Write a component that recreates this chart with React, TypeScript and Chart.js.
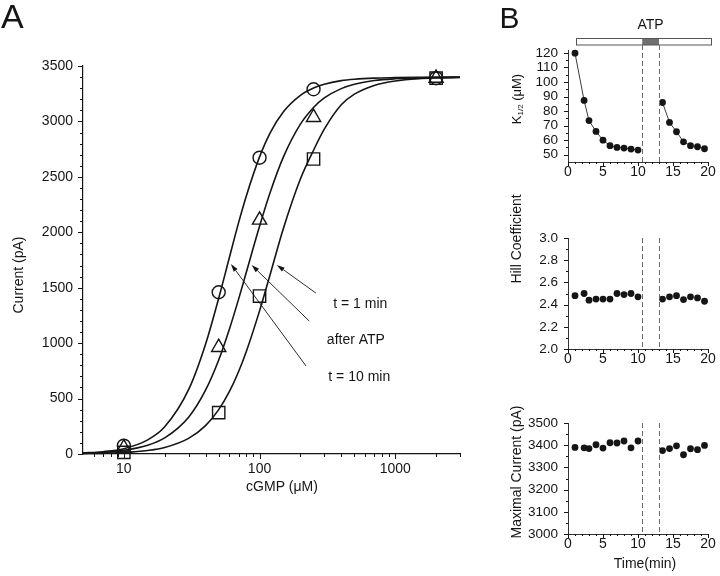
import React, { useEffect, useRef } from 'react';
import { Chart, registerables } from 'chart.js';

Chart.register(...registerables);

const FONT = '"Liberation Sans", Arial, Helvetica, sans-serif';
const INK = '#151515';

// ---------------- Panel A data ----------------
const cgmpConc = [10, 50, 100, 250, 2000];
const current10min = [75, 1459, 2673, 3290, 3390]; // circles
const currentAfterATP = [55, 962, 2111, 3037, 3390]; // triangles
const current1min = [15, 373, 1425, 2661, 3390]; // squares

const fitConc = [5, 7, 10, 15, 20, 30, 40, 50, 60, 70, 80, 100, 120, 150, 200, 250, 300, 400, 500, 700, 1000, 1500, 2000, 3000];
const fit10min = [10, 21, 48, 127, 245, 580, 990, 1405, 1775, 2085, 2330, 2680, 2900, 3088, 3236, 3302, 3336, 3368, 3381, 3391, 3395, 3398, 3399, 3400];
const fitAfterATP = [7, 15, 33, 79, 145, 332, 576, 848, 1128, 1395, 1642, 2054, 2363, 2680, 2975, 3126, 3212, 3296, 3335, 3369, 3385, 3393, 3397, 3398];
const fit1min = [3, 6, 13, 32, 59, 141, 256, 400, 564, 742, 927, 1291, 1624, 2036, 2480, 2740, 2930, 3150, 3246, 3325, 3365, 3386, 3392, 3396];

const xTicksA = [10, 100, 1000];
const xMinorA = [6, 7, 8, 9, 20, 30, 40, 50, 60, 70, 80, 90, 200, 300, 400, 500, 600, 700, 800, 900, 2000, 3000];
const yTicksA = [0, 500, 1000, 1500, 2000, 2500, 3000, 3500];
const yMinorA = Array.from({ length: 36 }, (_, i) => i * 100).filter((v) => v % 500 !== 0);

const arrowLabels = ['t = 1 min', 'after ATP', 't = 10 min'];
const arrowTips = [[134, 1705], [87.4, 1705], [61.5, 1714]];
const arrowTails = [[260, 1452], [232, 1200], [220, 794]];
const arrowLabelAt = [[552, 1350], [513, 1028], [543, 697]];

// ---------------- Panel B data ----------------
const timeSeg1 = [1, 2.3, 3, 4, 5, 6, 7, 8, 9, 10];
const timeSeg2 = [13.5, 14.5, 15.5, 16.5, 17.5, 18.5, 19.5];
const kHalfSeg1 = [119.8, 87.3, 73.5, 66, 60, 56.2, 55, 54.6, 53.9, 53.2];
const kHalfSeg2 = [85.9, 72.2, 65.8, 58.9, 56.2, 55.5, 54.1];
const hillSeg1 = [2.48, 2.5, 2.44, 2.45, 2.45, 2.45, 2.5, 2.49, 2.5, 2.47];
const hillSeg2 = [2.45, 2.47, 2.48, 2.445, 2.47, 2.46, 2.43];
const imaxSeg1 = [3390, 3388, 3385, 3402, 3387, 3411, 3410, 3419, 3388, 3419];
const imaxSeg2 = [3376, 3385, 3397, 3357, 3384, 3380, 3399];

const atpOn = [10.6, 13.0];
const atpBar = [1.1, 20.4];

const xTicksB = [0, 5, 10, 15, 20];
const xMinorB = Array.from({ length: 21 }, (_, i) => i).filter((v) => v % 5 !== 0);
const yTicksK = [50, 60, 70, 80, 90, 100, 110, 120];
const yMinorK = [55, 65, 75, 85, 95, 105, 115];
const yTicksHill = [2.0, 2.2, 2.4, 2.6, 2.8, 3.0];
const yMinorHill = [2.1, 2.3, 2.5, 2.7, 2.9];
const yTicksMax = [3000, 3100, 3200, 3300, 3400, 3500];
const yMinorMax = [3050, 3150, 3250, 3350, 3450];

// ---------------- layout (pixels) ----------------
const W = 720;
const H = 576;
const A_BOX = { left: 83, top: 66, right: 460, bottom: 454 };
const B_LEFT = 568;
const B_RIGHT = 708;
const K_BOX = { top: 50, bottom: 162 };
const HILL_BOX = { top: 238, bottom: 349 };
const MAX_BOX = { top: 423, bottom: 534 };

const pts = (xs: number[], ys: number[]) => xs.map((x, i) => ({ x, y: ys[i] }));

function tickPlugin(id: string, xMaj: number[], xMin: number[], yMaj: number[], yMin: number[], majLen: number, minLen: number) {
  return {
    id,
    afterDraw(chart: any) {
      const { ctx, chartArea: ca, scales } = chart;
      const xs = scales.x;
      const ys = scales.y;
      ctx.save();
      ctx.strokeStyle = INK;
      ctx.lineWidth = 1;
      ctx.beginPath();
      const xt = (v: number, len: number) => {
        const p = Math.round(xs.getPixelForValue(v)) + 0.5;
        ctx.moveTo(p, ca.bottom);
        ctx.lineTo(p, ca.bottom + len);
      };
      const yt = (v: number, len: number) => {
        const p = Math.round(ys.getPixelForValue(v)) + 0.5;
        ctx.moveTo(ca.left, p);
        ctx.lineTo(ca.left - len, p);
      };
      xMaj.forEach((v) => xt(v, majLen));
      xMin.forEach((v) => xt(v, minLen));
      yMaj.forEach((v) => yt(v, majLen));
      yMin.forEach((v) => yt(v, minLen));
      ctx.stroke();
      ctx.restore();
    },
  };
}

function baseOptions(padding: any) {
  return {
    responsive: false,
    animation: false,
    events: [],
    layout: { padding, autoPadding: false },
    plugins: { legend: { display: false }, tooltip: { enabled: false } },
  };
}

function rotatedText(ctx: any, text: string, x: number, y: number, size: number) {
  ctx.save();
  ctx.translate(x, y);
  ctx.rotate(-Math.PI / 2);
  ctx.font = `${size}px ${FONT}`;
  ctx.fillStyle = INK;
  ctx.textAlign = 'center';
  ctx.textBaseline = 'middle';
  ctx.fillText(text, 0, 0);
  ctx.restore();
}

function dashedV(ctx: any, x: number, y1: number, y2: number) {
  ctx.save();
  ctx.strokeStyle = '#6a6a6a';
  ctx.lineWidth = 1;
  ctx.setLineDash([5, 3]);
  ctx.beginPath();
  const px = Math.round(x) + 0.5;
  ctx.moveTo(px, y1);
  ctx.lineTo(px, y2);
  ctx.stroke();
  ctx.restore();
}

function makePanelA(canvas: HTMLCanvasElement) {
  const annot = {
    id: 'annotA',
    afterDraw(chart: any) {
      const { ctx, scales } = chart;
      const xs = scales.x;
      const ys = scales.y;
      ctx.save();
      // panel letter
      ctx.fillStyle = INK;
      ctx.font = `34px ${FONT}`;
      ctx.textAlign = 'left';
      ctx.textBaseline = 'alphabetic';
      ctx.fillText('A', 1, 28);
      // axis titles
      ctx.font = `14px ${FONT}`;
      ctx.textAlign = 'center';
      ctx.textBaseline = 'middle';
      ctx.fillText('cGMP (\u03bcM)', 282, 487);
      rotatedText(ctx, 'Current (pA)', 19.5, 275, 14);
      // arrows
      ctx.strokeStyle = INK;
      ctx.fillStyle = INK;
      ctx.lineWidth = 0.9;
      arrowTips.forEach((tip, i) => {
        const x2 = xs.getPixelForValue(tip[0]);
        const y2 = ys.getPixelForValue(tip[1]);
        const x1 = xs.getPixelForValue(arrowTails[i][0]);
        const y1 = ys.getPixelForValue(arrowTails[i][1]);
        const ang = Math.atan2(y2 - y1, x2 - x1);
        const L = 8;
        const Wd = 2.4;
        const bx = x2 - L * Math.cos(ang);
        const by = y2 - L * Math.sin(ang);
        ctx.beginPath();
        ctx.moveTo(x1, y1);
        ctx.lineTo(bx, by);
        ctx.stroke();
        ctx.beginPath();
        ctx.moveTo(x2, y2);
        ctx.lineTo(bx + Wd * Math.sin(ang), by - Wd * Math.cos(ang));
        ctx.lineTo(bx - Wd * Math.sin(ang), by + Wd * Math.cos(ang));
        ctx.closePath();
        ctx.fill();
        const lp = arrowLabelAt[i];
        ctx.fillText(arrowLabels[i], xs.getPixelForValue(lp[0]), ys.getPixelForValue(lp[1]));
      });
      ctx.restore();
    },
  };
  const curve = (data: number[]) => ({
    data: pts(fitConc, data),
    showLine: true,
    borderColor: INK,
    borderWidth: 1.6,
    pointRadius: 0,
    cubicInterpolationMode: 'monotone',
    fill: false,
    clip: false,
  });
  const marks = (data: number[], style: string, r: number) => ({
    data: pts(cgmpConc, data),
    showLine: false,
    pointStyle: style,
    pointRadius: r,
    borderColor: INK,
    borderWidth: 1.4,
    backgroundColor: 'rgba(0,0,0,0)',
    clip: false,
  });
  return new Chart(canvas, {
    type: 'scatter',
    data: {
      datasets: [
        curve(fit10min),
        curve(fitAfterATP),
        curve(fit1min),
        marks(current10min, 'circle', 6.5),
        marks(currentAfterATP, 'triangle', 8.2),
        marks(current1min, 'rect', 8.7),
      ],
    } as any,
    options: {
      ...baseOptions({ left: 0, top: A_BOX.top, right: W - A_BOX.right, bottom: 0 }),
      scales: {
        x: {
          type: 'logarithmic',
          position: 'bottom',
          min: 5,
          max: 3000,
          afterBuildTicks: (s: any) => {
            s.ticks = xTicksA.map((v) => ({ value: v }));
          },
          afterFit: (s: any) => {
            s.height = H - A_BOX.bottom;
          },
          ticks: { callback: (v: any) => String(v), autoSkip: false, maxRotation: 0, padding: 7, color: INK, font: { family: FONT, size: 14 } },
          grid: { display: false, drawTicks: false },
          border: { display: true, color: INK, width: 1.2 },
        },
        y: {
          type: 'linear',
          position: 'left',
          min: 0,
          max: 3500,
          afterBuildTicks: (s: any) => {
            s.ticks = yTicksA.map((v) => ({ value: v }));
          },
          afterFit: (s: any) => {
            s.width = A_BOX.left;
          },
          ticks: { callback: (v: any) => String(v), autoSkip: false, padding: 10, color: INK, font: { family: FONT, size: 14 } },
          grid: { display: false, drawTicks: false },
          border: { display: true, color: INK, width: 1.2 },
        },
      },
    } as any,
    plugins: [tickPlugin('ticksA', xTicksA, xMinorA, yTicksA, yMinorA, 5, 3), annot],
  });
}

function makePanelB(
  canvas: HTMLCanvasElement,
  box: { top: number; bottom: number },
  seg1: number[],
  seg2: number[],
  yMin: number,
  yMax: number,
  yTicks: number[],
  yMinor: number[],
  fmt: (v: number) => string,
  connect: boolean,
  decor: (chart: any) => void,
) {
  const series = (xs: number[], ys: number[]) => ({
    data: pts(xs, ys),
    showLine: connect,
    borderColor: '#3a3a3a',
    borderWidth: 1,
    pointRadius: 3.4,
    pointBackgroundColor: INK,
    pointBorderWidth: 0,
    pointBorderColor: INK,
    clip: false,
  });
  const decorPlugin = { id: 'decorB', afterDraw: decor };
  return new Chart(canvas, {
    type: 'scatter',
    data: { datasets: [series(timeSeg1, seg1), series(timeSeg2, seg2)] } as any,
    options: {
      ...baseOptions({ left: 0, top: box.top, right: W - B_RIGHT, bottom: 0 }),
      scales: {
        x: {
          type: 'linear',
          position: 'bottom',
          min: 0,
          max: 20,
          afterBuildTicks: (s: any) => {
            s.ticks = xTicksB.map((v) => ({ value: v }));
          },
          afterFit: (s: any) => {
            s.height = H - box.bottom;
          },
          ticks: { callback: (v: any) => String(v), autoSkip: false, maxRotation: 0, padding: 2, color: INK, font: { family: FONT, size: 14 } },
          grid: { display: false, drawTicks: false },
          border: { display: true, color: '#333', width: 1 },
        },
        y: {
          type: 'linear',
          position: 'left',
          min: yMin,
          max: yMax,
          afterBuildTicks: (s: any) => {
            s.ticks = yTicks.map((v) => ({ value: v }));
          },
          afterFit: (s: any) => {
            s.width = B_LEFT;
          },
          ticks: { callback: (v: any) => fmt(Number(v)), autoSkip: false, padding: 10, color: INK, font: { family: FONT, size: 13.5 } },
          grid: { display: false, drawTicks: false },
          border: { display: true, color: '#333', width: 1 },
        },
      },
    } as any,
    plugins: [tickPlugin('ticksB', xTicksB, xMinorB, yTicks, yMinor, 4, 2), decorPlugin],
  });
}

export default function App() {
  const refA = useRef<HTMLCanvasElement>(null);
  const refK = useRef<HTMLCanvasElement>(null);
  const refH = useRef<HTMLCanvasElement>(null);
  const refM = useRef<HTMLCanvasElement>(null);

  useEffect(() => {
    const charts: Chart[] = [];
    charts.push(makePanelA(refA.current as HTMLCanvasElement));
    charts.push(
      makePanelB(refK.current as HTMLCanvasElement, K_BOX, kHalfSeg1, kHalfSeg2, 45, 122, yTicksK, yMinorK, (v) => String(v), true, (chart: any) => {
        const { ctx, chartArea: ca, scales } = chart;
        const xs = scales.x;
        ctx.save();
        // panel letter
        ctx.fillStyle = INK;
        ctx.font = `30px ${FONT}`;
        ctx.textAlign = 'left';
        ctx.textBaseline = 'alphabetic';
        ctx.fillText('B', 499.5, 28.3);
        // ATP bar
        const bx1 = Math.round(xs.getPixelForValue(atpBar[0])) + 0.5;
        const bx2 = Math.round(xs.getPixelForValue(atpBar[1])) + 0.5;
        const g1 = xs.getPixelForValue(atpOn[0]);
        const g2 = xs.getPixelForValue(atpOn[1]);
        const barTop = Math.round(ca.top - 12.3) + 0.5;
        const barH = 6.5;
        ctx.fillStyle = '#ffffff';
        ctx.fillRect(bx1, barTop, bx2 - bx1, barH);
        ctx.fillStyle = '#6f6f6f';
        ctx.fillRect(g1, barTop, g2 - g1, barH);
        ctx.strokeStyle = '#555';
        ctx.lineWidth = 1;
        ctx.strokeRect(bx1, barTop, bx2 - bx1, barH);
        ctx.fillStyle = INK;
        ctx.font = `14px ${FONT}`;
        ctx.textAlign = 'center';
        ctx.fillText('ATP', (g1 + g2) / 2, 28.5);
        ctx.restore();
        dashedV(ctx, g1, barTop + barH, ca.bottom);
        dashedV(ctx, g2, barTop + barH, ca.bottom);
        // y title K1/2 (uM)
        ctx.save();
        ctx.translate(517, 99);
        ctx.rotate(-Math.PI / 2);
        ctx.fillStyle = INK;
        ctx.textAlign = 'left';
        ctx.textBaseline = 'middle';
        ctx.font = `13px ${FONT}`;
        const wK = ctx.measureText('K').width;
        const wR = ctx.measureText(' (\u03bcM)').width;
        ctx.font = `8px ${FONT}`;
        const wS = ctx.measureText('1/2').width;
        let sx = -(wK + wS + wR) / 2;
        ctx.font = `13px ${FONT}`;
        ctx.fillText('K', sx, 0);
        sx += wK;
        ctx.font = `8px ${FONT}`;
        ctx.fillText('1/2', sx, 3.5);
        sx += wS;
        ctx.font = `13px ${FONT}`;
        ctx.fillText(' (\u03bcM)', sx, 0);
        ctx.restore();
      }),
    );
    charts.push(
      makePanelB(refH.current as HTMLCanvasElement, HILL_BOX, hillSeg1, hillSeg2, 2.0, 3.0, yTicksHill, yMinorHill, (v) => v.toFixed(1), false, (chart: any) => {
        const { ctx, chartArea: ca, scales } = chart;
        dashedV(ctx, scales.x.getPixelForValue(atpOn[0]), ca.top, ca.bottom);
        dashedV(ctx, scales.x.getPixelForValue(atpOn[1]), ca.top, ca.bottom);
        rotatedText(ctx, 'Hill Coefficient', 517, 239, 14);
      }),
    );
    charts.push(
      makePanelB(refM.current as HTMLCanvasElement, MAX_BOX, imaxSeg1, imaxSeg2, 3000, 3500, yTicksMax, yMinorMax, (v) => String(v), false, (chart: any) => {
        const { ctx, chartArea: ca, scales } = chart;
        dashedV(ctx, scales.x.getPixelForValue(atpOn[0]), ca.top, ca.bottom);
        dashedV(ctx, scales.x.getPixelForValue(atpOn[1]), ca.top, ca.bottom);
        rotatedText(ctx, 'Maximal Current (pA)', 517, 472, 14);
        ctx.save();
        ctx.fillStyle = INK;
        ctx.font = `14px ${FONT}`;
        ctx.textAlign = 'center';
        ctx.textBaseline = 'middle';
        ctx.fillText('Time(min)', 645, 564);
        ctx.restore();
      }),
    );
    return () => charts.forEach((c) => c.destroy());
  }, []);

  const canvasStyle: React.CSSProperties = { position: 'absolute', left: 0, top: 0, width: W, height: H };
  return (
    <div style={{ position: 'fixed', left: 0, top: 0, width: W, height: H, background: '#ffffff' }}>
      <canvas ref={refA} width={W} height={H} style={canvasStyle} />
      <canvas ref={refK} width={W} height={H} style={canvasStyle} />
      <canvas ref={refH} width={W} height={H} style={canvasStyle} />
      <canvas ref={refM} width={W} height={H} style={canvasStyle} />
    </div>
  );
}
